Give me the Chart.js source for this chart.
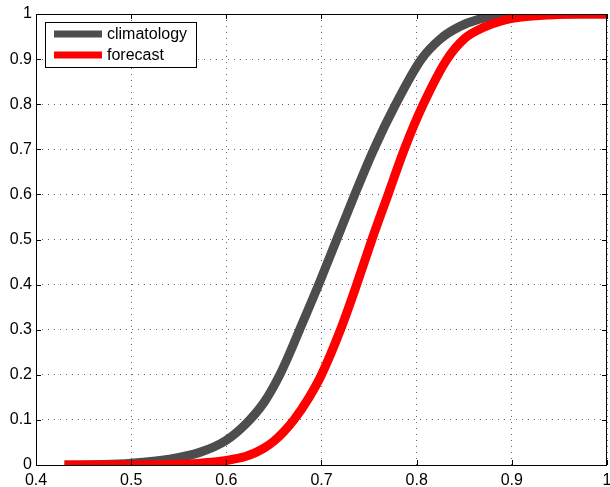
<!DOCTYPE html>
<html lang="en">
<head>
    <meta charset="UTF-8">
    <title>CDF: climatology vs forecast</title>
    <script src="https://cdn.jsdelivr.net/npm/chart.js"></script>
    <style>
        body { margin: 0; background: #fff; }
        #wrap { width: 610px; height: 487px; }
    </style>
</head>
<body>
    <div id="wrap"><canvas id="cdf" width="610" height="487"></canvas></div>

    <script>
        // cumulative probability curves
        const climX = [0.43, 0.47, 0.50, 0.54, 0.572, 0.60, 0.62, 0.64, 0.655, 0.667, 0.677, 0.697, 0.716, 0.735, 0.755, 0.778, 0.805, 0.825, 0.845, 0.865, 0.885, 0.91, 1.0];
        const climY = [0, 0.001, 0.004, 0.013, 0.028, 0.055, 0.09, 0.14, 0.195, 0.25, 0.30, 0.40, 0.50, 0.60, 0.70, 0.80, 0.90, 0.945, 0.972, 0.988, 0.996, 1.0, 1.0];

        const fcstX = [0.43, 0.50, 0.54, 0.572, 0.60, 0.61, 0.62, 0.63, 0.64, 0.65, 0.66, 0.671, 0.687, 0.700, 0.720, 0.737, 0.753, 0.770, 0.787, 0.807, 0.832, 0.85, 0.87, 0.89, 0.91, 0.94, 0.97, 1.0];
        const fcstY = [0, 0, 0.001, 0.004, 0.010, 0.014, 0.019, 0.027, 0.038, 0.053, 0.073, 0.10, 0.15, 0.20, 0.30, 0.40, 0.50, 0.60, 0.70, 0.80, 0.90, 0.945, 0.970, 0.985, 0.993, 0.998, 1.0, 1.0];

        const seriesNames = ['climatology', 'forecast'];
        const xTicks = [0.4, 0.5, 0.6, 0.7, 0.8, 0.9, 1];
        const yTicks = [0, 0.1, 0.2, 0.3, 0.4, 0.5, 0.6, 0.7, 0.8, 0.9, 1];

        const FONT = 'Liberation Sans, Arial, Helvetica, sans-serif';

        function zip(xs, ys) {
            return xs.map((x, i) => ({ x: x, y: ys[i] }));
        }

        // fixed box around the plot plus small inward ticks on every side
        const framePlugin = {
            id: 'frame',
            afterDatasetsDraw(chart) {
                const { ctx, chartArea: a, scales } = chart;
                ctx.save();
                ctx.strokeStyle = '#000';
                ctx.lineWidth = 1;
                ctx.strokeRect(a.left + 0.5, a.top + 0.5, a.right - a.left - 1, a.bottom - a.top);
                ctx.beginPath();
                xTicks.forEach(v => {
                    const px = Math.round(scales.x.getPixelForValue(v)) + 0.5;
                    ctx.moveTo(px, a.bottom); ctx.lineTo(px, a.bottom - 5);
                    ctx.moveTo(px, a.top); ctx.lineTo(px, a.top + 5);
                });
                yTicks.forEach(v => {
                    const py = Math.round(scales.y.getPixelForValue(v)) + 0.5;
                    ctx.moveTo(a.left, py); ctx.lineTo(a.left + 5, py);
                    ctx.moveTo(a.right, py); ctx.lineTo(a.right - 5, py);
                });
                ctx.stroke();
                ctx.restore();
            }
        };

        // boxed legend in the upper-left corner
        const boxLegend = {
            id: 'boxLegend',
            afterDraw(chart) {
                const ctx = chart.ctx;
                const sets = chart.data.datasets;
                ctx.save();
                ctx.fillStyle = '#fff';
                ctx.fillRect(45, 22, 151, 45);
                ctx.strokeStyle = '#000';
                ctx.lineWidth = 1;
                ctx.strokeRect(45.5, 22.5, 151, 45);
                ctx.font = '16px ' + FONT;
                ctx.textBaseline = 'middle';
                sets.forEach((ds, i) => {
                    const y = 34 + i * 21;
                    ctx.strokeStyle = ds.borderColor;
                    ctx.lineWidth = 7;
                    ctx.beginPath();
                    ctx.moveTo(54, y);
                    ctx.lineTo(102, y);
                    ctx.stroke();
                    ctx.fillStyle = '#000';
                    ctx.fillText(ds.label, 107, y + 1);
                });
                ctx.restore();
            }
        };

        function noPad(scale) {
            scale.paddingLeft = 0;
            scale.paddingRight = 0;
            scale.paddingTop = 0;
            scale.paddingBottom = 0;
        }

        new Chart(document.getElementById('cdf'), {
            type: 'line',
            data: {
                datasets: [{
                    label: seriesNames[0],
                    data: zip(climX, climY),
                    borderColor: '#4d4d4d',
                    borderWidth: 9,
                    order: 1
                }, {
                    label: seriesNames[1],
                    data: zip(fcstX, fcstY),
                    borderColor: '#ff0000',
                    borderWidth: 9,
                    order: 0
                }]
            },
            options: {
                responsive: false,
                animation: false,
                layout: { padding: { top: 14, right: 3, left: 0, bottom: 0 } },
                elements: {
                    point: { radius: 0 },
                    line: { cubicInterpolationMode: 'monotone', fill: false }
                },
                datasets: { line: { clip: 0 } },
                plugins: {
                    legend: { display: false },
                    tooltip: { enabled: false }
                },
                scales: {
                    x: {
                        type: 'linear',
                        min: 0.4,
                        max: 1,
                        afterBuildTicks: s => { s.ticks = xTicks.map(v => ({ value: v })); },
                        afterFit: s => { s.height = 22; noPad(s); },
                        grid: { color: 'rgba(0,0,0,0.6)', drawTicks: false },
                        border: { display: false, dash: [1, 5] },
                        ticks: {
                            padding: 6,
                            color: '#000',
                            maxRotation: 0,
                            autoSkip: false,
                            font: { family: FONT, size: 16 },
                            callback: v => String(+v.toFixed(1))
                        }
                    },
                    y: {
                        min: 0,
                        max: 1,
                        afterBuildTicks: s => { s.ticks = yTicks.map(v => ({ value: v })); },
                        afterFit: s => { s.width = 36; noPad(s); },
                        grid: { color: 'rgba(0,0,0,0.6)', drawTicks: false },
                        border: { display: false, dash: [1, 5] },
                        ticks: {
                            padding: 4,
                            color: '#000',
                            autoSkip: false,
                            font: { family: FONT, size: 16 },
                            callback: v => String(+v.toFixed(1))
                        }
                    }
                }
            },
            plugins: [framePlugin, boxLegend]
        });
    </script>
</body>
</html>
